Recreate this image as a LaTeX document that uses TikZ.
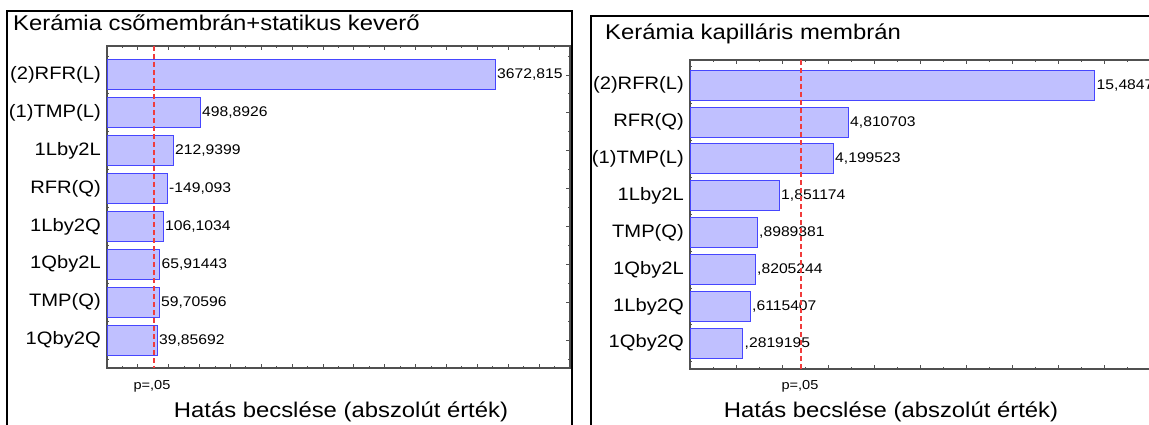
\documentclass[tikz,border=0pt]{standalone}
\usepackage{fontspec}
\setmainfont{Liberation Sans}[FakeStretch=1.12]

\definecolor{barfill}{RGB}{192,192,255}
\definecolor{baredge}{RGB}{70,70,255}
\definecolor{critred}{RGB}{240,60,60}
\definecolor{axisgray}{RGB}{80,80,80}

\tikzset{
  panelframe/.style={line width=2.5pt, black},
  plotaxis/.style={line width=1.3pt, axisgray},
  tickmark/.style={line width=0.9pt, axisgray},
  effbar/.style={draw=baredge, fill=barfill, line width=1pt},
  critline/.style={critred, line width=1.4pt, dash pattern=on 5pt off 3pt},
  catlabel/.style={anchor=east, inner sep=0pt, font=\fontsize{18}{18}\selectfont},
  vallabel/.style={anchor=west, inner sep=0pt, font=\fontsize{14}{14}\selectfont},
  paneltitle/.style={anchor=base west, inner sep=0pt, font=\fontsize{21.3}{22}\selectfont},
  axistitle/.style={inner sep=0pt, font=\fontsize{21.3}{22}\selectfont},
  plabel/.style={inner sep=0pt, font=\fontsize{13}{13}\selectfont},
}

% one bar: name, left x, centre y, right x, factor, value
\newcommand{\effectbar}[6]{
  \draw[effbar] (#2,#3-15) rectangle (#4,#3+15);
  \node[catlabel] (#1lab) at (#2-6,#3) {#5};
  \node[vallabel] (#1val) at (#4+2,#3) {#6};
}
% ticks on top and bottom axis: left x, step, count, top y, bottom y
\newcommand{\xticks}[5]{
  \foreach \k in {0,...,#3}{
    \pgfmathsetmacro\tx{#1+\k*#2}
    \pgfmathsetmacro\tl{mod(\k,2)==0 ? 4 : 2}
    \draw[tickmark] (\tx,#4) -- (\tx,#4+\tl);
    \draw[tickmark] (\tx,#5) -- (\tx,#5-\tl);
  }
}
% ticks on a vertical axis: x, first centre y, pitch, direction (+1 right, -1 left)
\newcommand{\yticks}[4]{
  \foreach \k in {0,...,7}{
    \pgfmathsetmacro\ty{#2+\k*#3}
    \draw[tickmark] (#1,\ty) -- (#1+#4*4,\ty);
    \draw[tickmark] (#1,\ty-#3/2) -- (#1+#4*2,\ty-#3/2);
  }
  \draw[tickmark] (#1,#2+7.5*#3) -- (#1+#4*2,#2+7.5*#3);
}

\begin{document}
\begin{tikzpicture}[x=1pt,y=-1pt]
  \useasboundingbox (0,0) rectangle (1149,425);
  \clip (0,0) rectangle (1149,425);

  % left panel
  \draw[panelframe] (7,430) -- (7,11) -- (572,11) -- (572,430);
  \node[paneltitle] (ltitle) at (13,31) {Kerámia csőmembrán+statikus keverő};
  \draw[plotaxis] (107,46) rectangle (570,368);
  \xticks{107}{15.43}{30}{46}{368}
  \yticks{107}{75}{37.86}{1}
  \yticks{570}{75}{37.86}{-1}

  \effectbar{la}{107}{75}{495}{(2)RFR(L)}{3672,815}
  \effectbar{lb}{107}{112.86}{200}{(1)TMP(L)}{498,8926}
  \effectbar{lc}{107}{150.72}{173}{1Lby2L}{212,9399}
  \effectbar{ld}{107}{188.58}{167}{RFR(Q)}{-149,093}
  \effectbar{le}{107}{226.44}{163}{1Lby2Q}{106,1034}
  \effectbar{lf}{107}{264.3}{159.5}{1Qby2L}{65,91443}
  \effectbar{lg}{107}{302.16}{159}{TMP(Q)}{59,70596}
  \effectbar{lh}{107}{340.02}{157}{1Qby2Q}{39,85692}

  \draw[critline] (154,46) -- (154,368);
  \node[plabel] (lp) at (152,386.7) {p=,05};
  \node[axistitle] (laxis) at (341,412) {Hatás becslése (abszolút érték)};

  % right panel
  \draw[panelframe] (591,430) -- (591,16) -- (1160,16);
  \node[paneltitle] (rtitle) at (605,40) {Kerámia kapilláris membrán};
  \draw[plotaxis] (1160,60) -- (690,60) -- (690,369) -- (1160,369);
  \xticks{690}{23}{20}{60}{369}
  \yticks{690}{85.3}{36.86}{1}

  \effectbar{ra}{690}{85.3}{1094.5}{(2)RFR(L)}{15,4847}
  \effectbar{rb}{690}{122.2}{848}{RFR(Q)}{4,810703}
  \effectbar{rc}{690}{159}{833}{(1)TMP(L)}{4,199523}
  \effectbar{rd}{690}{195.9}{779}{1Lby2L}{1,851174}
  \effectbar{re}{690}{232.7}{757}{TMP(Q)}{,8989381}
  \effectbar{rf}{690}{269.6}{755}{1Qby2L}{,8205244}
  \effectbar{rg}{690}{306.5}{750}{1Lby2Q}{,6115407}
  \effectbar{rh}{690}{343.3}{742.5}{1Qby2Q}{,2819195}

  \draw[critline] (801,60) -- (801,369);
  \node[plabel] (rp) at (800,386.7) {p=,05};
  \node[axistitle] (raxis) at (891,412) {Hatás becslése (abszolút érték)};
\end{tikzpicture}
\end{document}
